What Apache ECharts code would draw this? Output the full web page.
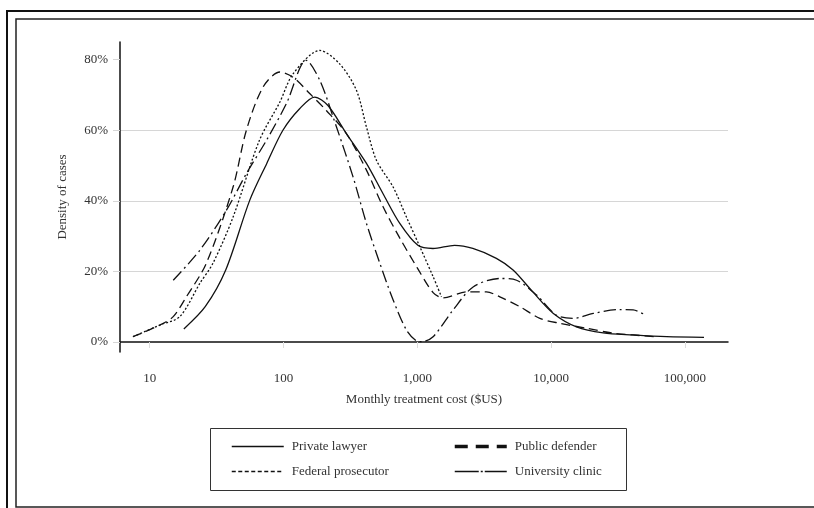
<!DOCTYPE html>
<html>
<head>
<meta charset="utf-8">
<script src="https://cdn.jsdelivr.net/npm/echarts@6/dist/echarts.min.js"></script>
<style>
  html, body { margin: 0; padding: 0; background: #fff; }
  #chart { width: 814px; height: 508px; }
</style>
</head>
<body>
<div id="chart"></div>
<script>
// values: monthly cost ($US) and density of cases (%)
const xTicks = [10, 100, 1000, 10000, 100000];
const yTicks = [0, 20, 40, 60, 80];

const privateCost = [18, 26, 37, 56, 75, 99, 132, 171, 215, 296, 417, 555, 740, 1010, 1310, 1900, 2600, 3900, 5200, 7300, 10400, 15500, 24500, 41000, 73000, 139000];
const privateDensity = [3.7, 10, 20.4, 40.2, 50.6, 60, 66.1, 69.4, 67, 59, 50.6, 42, 33.6, 27.4, 26.5, 27.4, 26.5, 23.7, 20.4, 14.2, 8.1, 4.3, 2.6, 2, 1.5, 1.3];

const federalCost = [7.5, 11.9, 16.8, 23.7, 29.7, 42, 66, 94, 118, 187, 263, 351, 417, 495, 660, 830, 1045, 1313, 1517];
const federalDensity = [1.5, 4.8, 7.2, 16.6, 22.3, 35.4, 57.1, 68, 76, 82.6, 78.8, 71.3, 60.9, 51.5, 43.9, 35.4, 27, 18.5, 12.8];

const publicCost = [7.5, 11.9, 15, 18.8, 26.5, 42, 52.8, 70.3, 94, 118, 157, 209, 296, 417, 555, 739, 1000, 1313, 1560, 2333, 3290, 4140, 5840, 8240, 11620, 18400, 29100, 61400];
const publicDensity = [1.5, 4.8, 7.2, 12.8, 22.3, 43.9, 60, 72.2, 76.5, 75, 70.4, 65.6, 59, 48.7, 38.3, 29.5, 21, 14, 12.5, 14.2, 14.2, 12.8, 10, 6.7, 5.3, 3.9, 2.5, 1.5];

const clinicCost = [15, 23.7, 37.4, 52.8, 74.5, 105, 148, 187, 249, 331, 417, 525, 660, 830, 986, 1075, 1313, 1853, 2613, 4140, 5520, 7790, 10980, 14630, 20640, 32700, 41070, 51000];
const clinicDensity = [17.5, 26, 37.3, 47.7, 57.1, 67.5, 79.8, 74.1, 60.9, 46.8, 33.6, 22.3, 11.9, 3.4, 0.3, 0.1, 1.5, 9.1, 15.6, 18, 17.5, 13.3, 7.6, 6.7, 8.1, 9.2, 9.1, 7.6];

const serif = 'Liberation Serif';
const ink = '#111';
const textGrey = '#333';

const pairs = (xs, ys) => xs.map((x, i) => [x, ys[i]]);

const lineSeries = (name, xs, ys, type) => ({
  name: name,
  type: 'line',
  smooth: 0.3,
  symbol: 'none',
  data: pairs(xs, ys),
  lineStyle: { color: ink, width: 1.3, type: type },
  itemStyle: { color: ink }
});

// legend shared bits; the symbol dot is hidden, only the line sample shows
const legendBase = {
  orient: 'vertical',
  top: 435,
  padding: 5,
  itemWidth: 52,
  itemHeight: 14,
  itemGap: 12,
  itemStyle: { color: 'rgba(0,0,0,0)', borderColor: 'rgba(0,0,0,0)', borderWidth: 0 },
  textStyle: { color: textGrey, fontSize: 13, fontFamily: serif, padding: [0, 0, 0, 3] }
};

const chart = echarts.init(document.getElementById('chart'), null, { renderer: 'canvas' });

const option = {
  animation: false,
  backgroundColor: '#fff',
  textStyle: { fontFamily: serif },
  grid: { left: 120, right: 86, top: 42, bottom: 156 },
  xAxis: {
    type: 'log',
    logBase: 10,
    min: 6,
    max: 210000,
    name: 'Monthly treatment cost ($US)',
    nameLocation: 'middle',
    nameGap: 41,
    nameTextStyle: { color: textGrey, fontSize: 13, fontFamily: serif },
    axisLine: { show: true, lineStyle: { color: ink, width: 1.5 } },
    axisTick: { show: true, length: 6, customValues: xTicks, lineStyle: { color: '#ddd' } },
    axisLabel: {
      customValues: xTicks,
      margin: 20,
      color: textGrey,
      fontSize: 13,
      fontFamily: serif,
      formatter: (v) => Number(v).toLocaleString('en-US')
    },
    splitLine: { show: false }
  },
  yAxis: {
    type: 'value',
    min: -2.83,
    max: 85,
    name: 'Density of cases',
    nameLocation: 'middle',
    nameGap: 51,
    nameRotate: 90,
    nameTextStyle: { color: textGrey, fontSize: 13, fontFamily: serif },
    axisLine: { show: true, lineStyle: { color: ink, width: 1.5 } },
    axisTick: { show: true, length: 7, customValues: yTicks, lineStyle: { color: '#d6d6d6' } },
    axisLabel: {
      customValues: yTicks,
      margin: 12,
      color: textGrey,
      fontSize: 13,
      fontFamily: serif,
      formatter: '{value}%'
    },
    splitLine: { show: true, showMinLine: false, showMaxLine: false, lineStyle: { color: '#d6d6d6', width: 1 } }
  },
  legend: [
    Object.assign({}, legendBase, {
      left: 226,
      data: [
        { name: 'Private lawyer', lineStyle: { type: 'solid', width: 1.5 } },
        { name: 'Federal prosecutor', lineStyle: { type: [4, 2.5], width: 1.5 } }
      ]
    }),
    Object.assign({}, legendBase, {
      left: 448,
      data: [
        { name: 'Public defender', lineStyle: { type: [13, 8], width: 3.5 } },
        { name: 'University clinic', lineStyle: { type: [24, 2, 2, 2, 30], width: 1.5 } }
      ]
    })
  ],
  graphic: [
    // double frame round the figure, open on the right
    { type: 'polyline', silent: true, shape: { points: [[820, 11], [7, 11], [7, 510]] }, style: { stroke: '#111', lineWidth: 2, fill: null } },
    { type: 'polyline', silent: true, shape: { points: [[820, 19], [16, 19], [16, 507], [820, 507]] }, style: { stroke: '#222', lineWidth: 1.5, fill: null } },
    // legend box
    { type: 'rect', silent: true, shape: { x: 210.5, y: 428.5, width: 416, height: 62 }, style: { stroke: '#333', lineWidth: 1, fill: null } }
  ],
  series: [
    lineSeries('Private lawyer', privateCost, privateDensity, 'solid'),
    lineSeries('Federal prosecutor', federalCost, federalDensity, [2, 2]),
    lineSeries('Public defender', publicCost, publicDensity, [9, 5]),
    lineSeries('University clinic', clinicCost, clinicDensity, [12, 4, 2, 4])
  ]
};

chart.setOption(option);
</script>
</body>
</html>
